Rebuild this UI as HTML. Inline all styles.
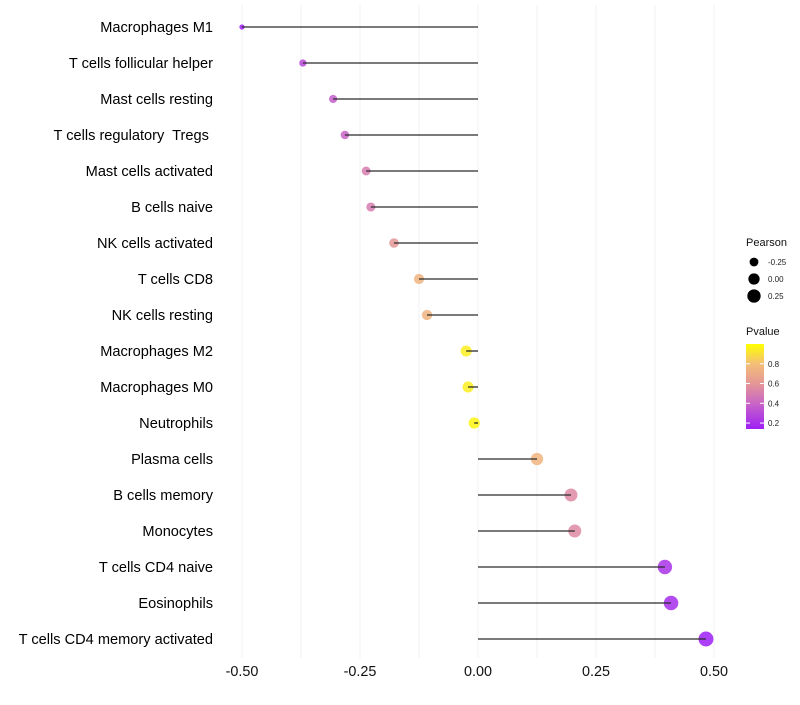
<!DOCTYPE html>
<html><head><meta charset="utf-8"><style>
body{margin:0;background:#fff;font-family:"Liberation Sans",sans-serif}
text{white-space:pre}
</style></head><body>
<svg id="c" width="800" height="700" xmlns="http://www.w3.org/2000/svg" font-family="Liberation Sans, sans-serif"></svg>
<script>
const categories=["Macrophages M1","T cells follicular helper","Mast cells resting","T cells regulatory  Tregs ","Mast cells activated","B cells naive","NK cells activated","T cells CD8","NK cells resting","Macrophages M2","Macrophages M0","Neutrophils","Plasma cells","B cells memory","Monocytes","T cells CD4 naive","Eosinophils","T cells CD4 memory activated"];
const pearson=[-0.50,-0.371,-0.307,-0.282,-0.237,-0.227,-0.178,-0.125,-0.108,-0.025,-0.021,-0.008,0.125,0.197,0.205,0.396,0.409,0.483];
const pvalue=[0.15,0.30,0.38,0.40,0.50,0.50,0.60,0.75,0.75,0.95,0.95,0.97,0.75,0.55,0.55,0.22,0.20,0.15];
const xTicks=[-0.5,-0.25,0,0.25,0.5];
const xTickLabels=["-0.50","-0.25","0.00","0.25","0.50"];
const sizeBreaks=[-0.25,0,0.25];
const colorBreaks=[0.2,0.4,0.6,0.8];

const svg=document.getElementById('c');
const NS="http://www.w3.org/2000/svg";
function el(t,a,p){const e=document.createElementNS(NS,t);for(const k in a)e.setAttribute(k,a[k]);(p||svg).appendChild(e);return e;}
const xS=v=>478+v*472;
const yS=i=>27+i*36;
const rS=v=>Math.sqrt(Math.max(1,32+50*v));
const stops=[[0.15,[158,31,245]],[0.4,[200,100,200]],[0.6,[228,150,150]],[0.8,[244,190,120]],[1.0,[255,255,0]]];
function col(p){for(let i=0;i<stops.length-1;i++){const[a,ca]=stops[i],[b,cb]=stops[i+1];if(p<=b||i==stops.length-2){const t=Math.max(0,Math.min(1,(p-a)/(b-a)));return`rgb(${ca.map((c,j)=>Math.round(c+(cb[j]-c)*t)).join(',')})`;}}}
for(let k=-4;k<=4;k++){const v=k*0.125;const g=el('line',{x1:xS(v),x2:xS(v),y1:5,y2:658,stroke:'#f1f1f1','stroke-width':1});

}
xTicks.forEach((v,i)=>{const t=el('text',{x:xS(v),y:676,'text-anchor':'middle','font-size':14.4,fill:'#111'});t.textContent=xTickLabels[i];

});
categories.forEach((c,i)=>{
const y=yS(i);
const t=el('text',{x:213,y:y+5,'text-anchor':'end','font-size':14.6,fill:'#000'});t.textContent=c;


const pt=el('circle',{cx:xS(pearson[i]),cy:y,r:rS(pearson[i]),fill:col(pvalue[i]),'fill-opacity':0.85});


const ln=el('line',{x1:xS(0),x2:xS(pearson[i]),y1:y,y2:y,stroke:'#2a2a2a','stroke-width':1.3});


});
const lt=el('text',{x:746,y:246,'font-size':11,fill:'#111'});lt.textContent="Pearson";


sizeBreaks.forEach((v,i)=>{const y=262+i*17;const c=el('circle',{cx:754,cy:y,r:rS(v),fill:'#000'});


const t=el('text',{x:768,y:y+3,'font-size':8,fill:'#222'});t.textContent=v.toFixed(2);

});
const pt2=el('text',{x:746,y:335,'font-size':11,fill:'#111'});pt2.textContent="Pvalue";


const defs=el('defs',{});const lg=el('linearGradient',{id:'g',x1:0,y1:1,x2:0,y2:0},defs);
stops.forEach(s=>{const p=(s[0]-0.15)/0.85;el('stop',{offset:p,'stop-color':`rgb(${s[1].join(',')})`},lg);});
const bar=el('rect',{x:746,y:344,width:18,height:85,fill:'url(#g)'});


const cy=p=>428-(p-0.15)/0.85*84;
colorBreaks.forEach(p=>{const y=cy(p);el('line',{x1:746,x2:750,y1:y,y2:y,stroke:'#fff'});el('line',{x1:760,x2:764,y1:y,y2:y,stroke:'#fff'});
const t=el('text',{x:768,y:y+3,'font-size':8,fill:'#222'});t.textContent=p.toFixed(1);

});
</script>
</body></html>
